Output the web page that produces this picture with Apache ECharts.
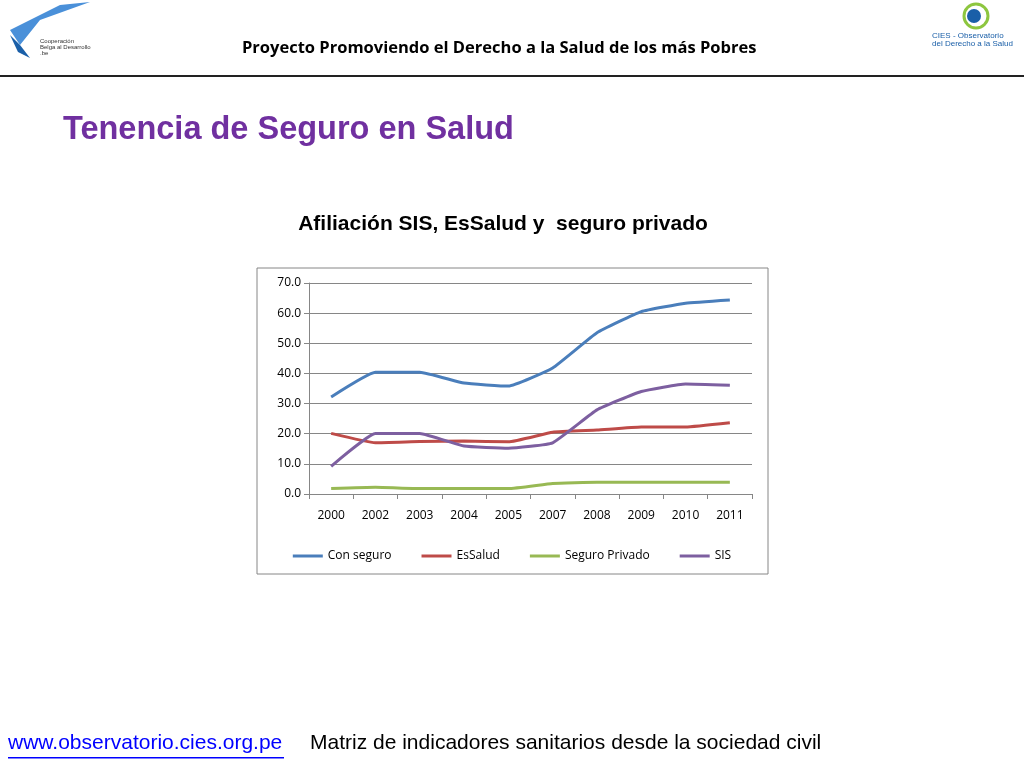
<!DOCTYPE html>
<html><head><meta charset="utf-8">
<script src="https://cdn.jsdelivr.net/npm/echarts@6/dist/echarts.min.js"></script>
<style>html,body{margin:0;padding:0;background:#fff}#c{width:1024px;height:768px}</style>
</head><body><div id="c"></div>
<script>
const years = ['2000','2002','2003','2004','2005','2007','2008','2009','2010','2011'];
const conSeguro = [32.2, 40.4, 40.4, 36.8, 35.8, 41.8, 53.5, 60.5, 63.3, 64.4];
const esSalud = [20.1, 17.0, 17.4, 17.6, 17.3, 20.5, 21.2, 22.2, 22.2, 23.6];
const seguroPrivado = [1.8, 2.2, 1.8, 1.8, 1.8, 3.5, 3.9, 3.9, 3.9, 3.9];
const sis = [9.2, 20.1, 20.1, 15.9, 15.2, 17.0, 27.9, 34.0, 36.5, 36.1];

const chart = echarts.init(document.getElementById('c'));
const mk = (name, data, color) => ({name, type:'line', data, symbol:'none', smooth:0.12,
  lineStyle:{width:3, color}, itemStyle:{color}});
const sans = '"Liberation Sans", Arial, sans-serif';
chart.setOption({
  animation:false,
  title:{text:'Afiliación SIS, EsSalud y  seguro privado', left:498, top:209, textAlign:'center',
    textStyle:{fontFamily:sans, fontWeight:'bold', fontSize:21, color:'#000'}},
  grid:{left:309, top:283, width:443, height:211},
  legend:{top:545, left:'center', itemGap:30, itemWidth:30, itemHeight:3, icon:'rect',
    textStyle:{fontFamily:'"Open Sans", sans-serif', fontSize:12, color:'#000'}},
  xAxis:{type:'category', data:years, boundaryGap:true,
    axisLine:{lineStyle:{color:'#868686'}}, axisTick:{show:true, length:5, lineStyle:{color:'#868686'}},
    axisLabel:{color:'#000', fontSize:12, margin:16, fontFamily:'"Open Sans", sans-serif'}},
  yAxis:{type:'value', min:0, max:70, interval:10,
    axisLine:{show:true, lineStyle:{color:'#868686'}}, axisTick:{show:true, lineStyle:{color:'#868686'}},
    splitLine:{lineStyle:{color:'#868686'}},
    axisLabel:{color:'#000', fontSize:12, formatter:v=>v.toFixed(1), fontFamily:'"Open Sans", sans-serif'}},
  graphic:[
    {type:'rect', shape:{x:257, y:268, width:511, height:306}, style:{fill:'none', stroke:'#868686', lineWidth:1}},
    {type:'rect', shape:{x:0, y:75, width:1024, height:2}, style:{fill:'#222'}},
    {type:'text', left:242, top:40, style:{text:'Proyecto Promoviendo el Derecho a la Salud de los más Pobres',
      font:'bold 16.5px "Open Sans", sans-serif', fill:'#000'}},
    {type:'text', left:63, top:114, style:{text:'Tenencia de Seguro en Salud',
      font:'bold 32.5px '+sans, fill:'#7030a0'}},
    {type:'text', left:8, top:733, style:{text:'www.observatorio.cies.org.pe',
      font:'21px '+sans, fill:'#0000ff'}},
    {type:'rect', shape:{x:8, y:757, width:276, height:1.5}, style:{fill:'#0000ff'}},
    {type:'text', left:310, top:733, style:{text:'Matriz de indicadores sanitarios desde la sociedad civil',
      font:'21px '+sans, fill:'#000'}},
    {type:'polygon', shape:{points:[[10,30],[60,5],[90,2],[40,20],[20,45]]}, style:{fill:'#4a90d9'}},
    {type:'polygon', shape:{points:[[10,35],[20,45],[30,58],[18,52]]}, style:{fill:'#1a5fa8'}},
    {type:'text', left:40, top:38, style:{text:'Cooperación\nBelga al Desarrollo\n.be', font:'6px sans-serif', fill:'#333', align:'right'}},
    {type:'circle', shape:{cx:976, cy:16, r:12}, style:{fill:'none', stroke:'#8dc63f', lineWidth:3}},
    {type:'circle', shape:{cx:974, cy:16, r:7}, style:{fill:'#1a5fa8'}},
    {type:'text', left:932, top:32, style:{text:'CIES - Observatorio\ndel Derecho a la Salud', font:'8px sans-serif', fill:'#1a5fa8', align:'center'}}
  ],
  series:[
    mk('Con seguro', conSeguro, '#4a7ebb'),
    mk('EsSalud', esSalud, '#be4b48'),
    mk('Seguro Privado', seguroPrivado, '#98b954'),
    mk('SIS', sis, '#7d5fa0')
  ]
});
</script></body></html>
